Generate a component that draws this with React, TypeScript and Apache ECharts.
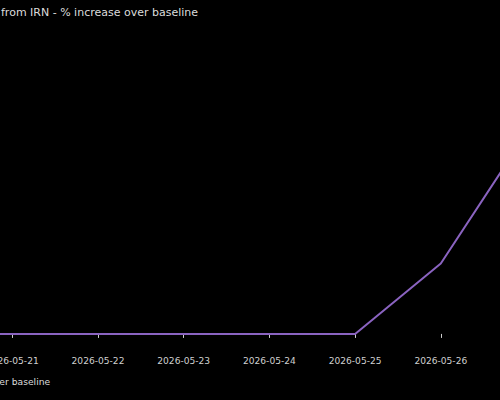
import React, { useEffect, useRef } from "react";
import * as echarts from "echarts";

const dates = [
  "2026-05-20",
  "2026-05-21",
  "2026-05-22",
  "2026-05-23",
  "2026-05-24",
  "2026-05-25",
  "2026-05-26",
  "2026-05-27",
];
const values = [0, 0, 0, 0, 0, 0, 35, 100];
const seriesName = "% increase over baseline";
const titleText = "from IRN - % increase over baseline";

export default function App() {
  const ref = useRef<HTMLDivElement>(null);
  useEffect(() => {
    if (!ref.current) return;
    const chart = echarts.init(ref.current, null, { renderer: "svg" });
    const font = "DejaVu Sans";
    chart.setOption({
      animation: false,
      backgroundColor: "#000000",
      title: {
        text: titleText,
        left: 1,
        top: 7,
        padding: 0,
        textStyle: { color: "#dcdcdc", fontSize: 11, fontWeight: "normal", fontFamily: font },
      },
      legend: {
        data: [seriesName],
        left: -96,
        top: 376,
        padding: 0,
        itemWidth: 25,
        itemGap: 5,
        textStyle: { color: "#dcdcdc", fontSize: 9.2, fontFamily: font },
      },
      grid: {
        left: -73.4,
        right: -26.5,
        top: 28.4,
        bottom: 50,
        containLabel: false,
        outerBoundsMode: "none",
      },
      xAxis: {
        type: "category",
        data: dates,
        boundaryGap: false,
        axisLine: { show: false },
        axisTick: { show: true, length: 4, lineStyle: { color: "#cccccc", width: 1 } },
        axisLabel: {
          interval: 0,
          color: "#d0d0d0",
          fontSize: 9.1,
          fontFamily: font,
          margin: 6,
          hideOverlap: false,
        },
        splitLine: { show: false },
      },
      yAxis: {
        type: "value",
        min: -8,
        max: 152,
        show: false,
        splitLine: { show: false },
      },
      series: [
        {
          name: seriesName,
          type: "line",
          data: values,
          symbol: "none",
          lineStyle: { color: "#8a63c0", width: 2 },
          itemStyle: { color: "#8a63c0" },
        },
      ],
    });
    return () => chart.dispose();
  }, []);
  return (
    <div
      ref={ref}
      style={{ position: "fixed", left: 0, top: 0, width: 500, height: 400, background: "#000" }}
    />
  );
}
